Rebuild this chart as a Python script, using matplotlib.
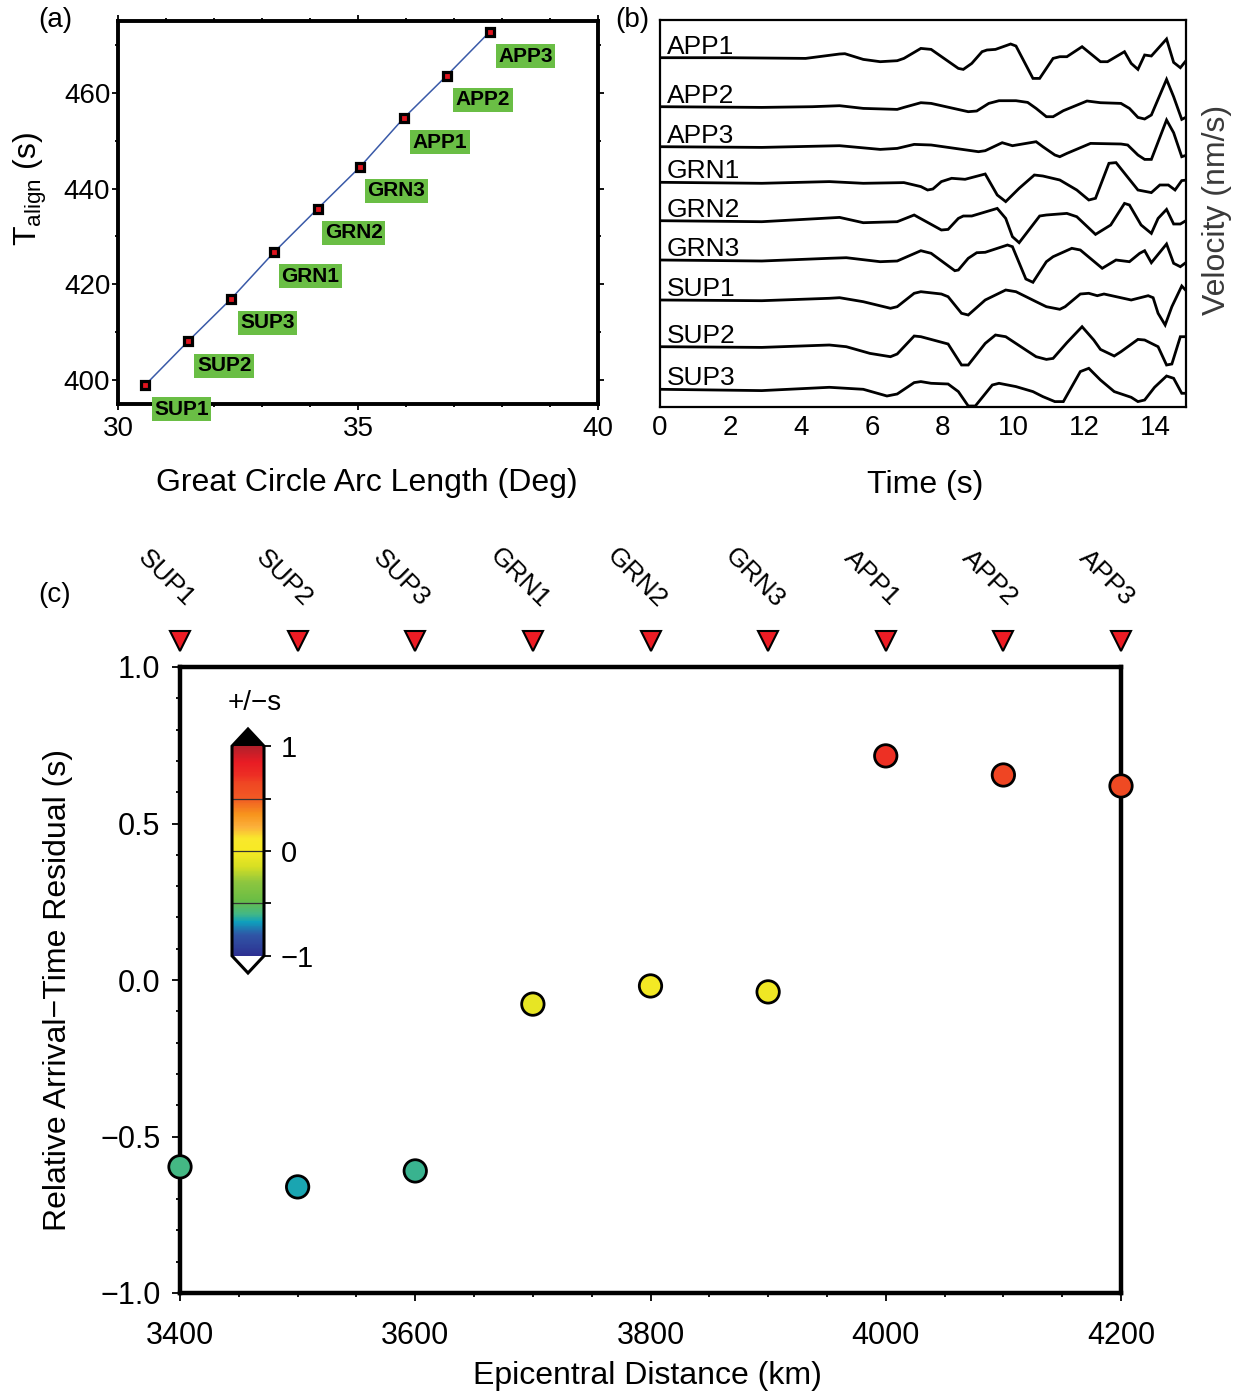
import numpy as np
import matplotlib
matplotlib.use('Agg')
import matplotlib.pyplot as plt
from matplotlib.colors import LinearSegmentedColormap, Normalize
from matplotlib.cm import ScalarMappable
from matplotlib.ticker import MultipleLocator, FixedLocator, FuncFormatter

plt.rcParams['font.family'] = ['Liberation Sans', 'DejaVu Sans']
plt.rcParams['mathtext.default'] = 'regular'

# station names, west to east
stations = ['SUP1', 'SUP2', 'SUP3', 'GRN1', 'GRN2', 'GRN3', 'APP1', 'APP2', 'APP3']

# (a) alignment time vs arc length
arc_deg = [30.57, 31.46, 32.36, 33.26, 34.16, 35.05, 35.95, 36.85, 37.74]
t_align = [399.0, 408.1, 417.0, 426.8, 435.8, 444.6, 454.7, 463.6, 472.7]

# (c) residuals vs epicentral distance
epi_km = [3400, 3500, 3600, 3700, 3800, 3900, 4000, 4100, 4200]
resid = [-0.597, -0.661, -0.610, -0.077, -0.019, -0.038, 0.716, 0.655, 0.620]

# (b) waveforms (time in s, amplitude in plot units), top to bottom
trace_names = ['APP1', 'APP2', 'APP3', 'GRN1', 'GRN2', 'GRN3', 'SUP1', 'SUP2', 'SUP3']
trace_base = [349.3, 300.3, 260.3, 224.7, 186.3, 147.0, 107.0, 60.3, 17.7]

t_app1 = [0, 1.92, 4.12, 5.08, 5.23, 5.75, 6.23, 6.71, 6.90, 7.38, 7.67, 8.44, 8.58, 8.82, 9.11, 9.25,
          9.49, 9.92, 10.07, 10.55, 10.74, 11.12, 11.31, 11.51, 11.94, 12.46, 12.66, 13.14, 13.33,
          13.52, 13.71, 13.90, 14.33, 14.53, 14.72, 14.91]
v_app1 = [0, 0, -0.7, 3.7, 4, -1.7, -4, -3, -0.7, 9.3, 8.3, -10.7, -11.7, -5.7, 6, 7.7,
          8.3, 13.7, 11.7, -20.7, -20.7, -0.7, 1, 1, 11, -4, -4, 6, -5.7,
          -11.7, 2.7, 1.7, 18.7, -4.7, -10, -1.7]

t_app2 = [0, 2.88, 4.31, 5.08, 5.75, 6.71, 6.90, 7.38, 7.67, 8.72, 8.96, 9.30, 9.59, 10.07, 10.40,
          10.64, 10.93, 11.12, 11.41, 12.08, 12.46, 13.04, 13.28, 13.52, 13.71, 13.90, 14.33, 14.53,
          14.76, 14.91]
v_app2 = [0, -0.7, 0, 1, -1.7, -2.7, -0.7, 4, 3.3, -5, -4.3, 3.3, 6, 6, 4.3,
          -1.7, -10, -10, -4, 5.7, 4, 3.3, -1.7, -10.7, -12.3, -8.3, 27.3, 10,
          -12.7, -10]

t_app3 = [0, 2.88, 5.08, 6.23, 6.71, 7.19, 7.67, 9.01, 9.20, 9.68, 9.97, 10.64, 10.83, 11.17, 11.31,
          11.51, 12.18, 13.04, 13.23, 13.52, 13.71, 13.90, 14.33, 14.53, 14.76, 14.91]
v_app3 = [0, -0.7, 1, -2.7, -1.7, 2.3, 1.7, -5, -4, 4, 1, 5, 0, -8.3, -10,
          -6.7, 3.3, 2.7, 1.7, -8.3, -12.7, -12.7, 26.7, 14, -10, -8.3]

t_grn1 = [0, 2.88, 4.79, 5.75, 6.90, 7.38, 7.57, 7.72, 7.96, 8.25, 8.63, 9.20, 9.54, 9.78, 10.16,
          10.59, 10.83, 11.31, 11.79, 12.13, 12.32, 12.70, 12.90, 13.52, 13.90, 14.14, 14.38, 14.57,
          14.76, 14.91]
v_grn1 = [0, -1, 0.7, -1, -0.3, -4.3, -7.7, -6.7, 0.7, 4, 3, 8.3, -12.7, -19.3, -6,
          7.3, 6.3, 2.3, -7.7, -17.7, -16, 19, 19.7, -7.7, -10.3, -2.7, -2.7, -7.7,
          1.7, 2.3]

t_grn2 = [0, 2.88, 5.08, 5.75, 6.71, 7.19, 7.96, 8.15, 8.44, 8.58, 8.82, 9.54, 9.78, 9.97, 10.16,
          10.74, 10.93, 11.51, 11.79, 12.32, 12.75, 13.14, 13.28, 13.61, 13.90, 14.09, 14.33, 14.53,
          14.72, 14.91]
v_grn2 = [0, -1, 3.3, -2, -1, 5.7, -9.3, -8.7, 2.3, 4.7, 4.7, 12.3, 2.3, -16, -22,
          4.7, 5.7, 7.3, 4, -13.7, -4.3, 17.3, 15.7, -4.3, -12.7, 2.3, 11.3, -3.3,
          -3.3, 0.7]

t_grn3 = [0, 2.88, 4.79, 5.27, 6.23, 6.71, 7.38, 7.67, 8.34, 8.44, 8.72, 8.96, 9.20, 9.83, 9.97,
          10.35, 10.55, 10.93, 11.12, 11.65, 11.89, 12.51, 12.90, 13.28, 13.57, 13.71, 13.90, 14.33,
          14.53, 14.72, 14.91]
v_grn3 = [0, -1, 1.7, 2.3, -1.7, -1, 9.3, 6.7, -10.7, -10, 1.7, 7.3, 7.7, 15, 13.3,
          -19, -22.3, -1.7, 3.3, 11.7, 10, -8.3, 0, -1.7, 6.7, 9.3, -2.7, 16,
          -3.3, -6.7, -1.7]

t_sup1 = [0, 2.88, 4.79, 5.08, 5.75, 6.52, 6.71, 7.19, 7.38, 7.96, 8.15, 8.53, 8.72, 9.20, 9.78,
          10.07, 10.64, 10.93, 11.31, 11.46, 11.89, 12.13, 12.37, 12.56, 13.33, 13.81, 13.95, 14.09,
          14.29, 14.48, 14.76, 14.91]
v_sup1 = [0, -0.7, 1.7, 2.3, -1.7, -8.3, -6.7, 6.7, 8.3, 6, 3.3, -13.3, -15, 0, 10,
          8.3, -1.7, -6.7, -9.3, -6.7, 6, 6.7, 4.3, 6, 0, 4.3, 2.3, -13.3,
          -25, -6.7, 14, 8.3]

t_sup2 = [0, 2.88, 4.79, 5.27, 5.94, 6.52, 6.71, 7.19, 7.38, 8.15, 8.53, 8.72, 9.20, 9.49, 9.78,
          10.35, 10.64, 10.93, 11.12, 11.51, 11.94, 12.27, 12.46, 12.85, 13.04, 13.52, 13.71, 14.09,
          14.33, 14.48, 14.72, 14.91]
v_sup2 = [0, -0.7, 1.7, 0, -6.7, -10, -7.3, 10.7, 10, 2.7, -18.3, -18.3, 3.3, 11.7, 10,
          -3.3, -10, -12.7, -11.7, 4, 20, 6.7, -2.7, -9.3, -5, 7.3, 6.7, 0,
          -18.3, -17.3, 10, 10]

t_sup3 = [0, 2.88, 4.79, 5.75, 6.42, 6.71, 7.19, 7.38, 7.67, 8.15, 8.44, 8.72, 8.92, 9.40, 9.59,
          10.07, 10.55, 10.83, 11.17, 11.41, 11.89, 12.13, 12.46, 12.85, 13.33, 13.52, 13.71, 13.99,
          14.33, 14.53, 14.76, 14.91]
v_sup3 = [0, -1.3, 2, 0, -6.7, -4.7, 6.7, 7.7, 6, 5.3, -2.3, -16.7, -16.7, 4.3, 6,
          2.7, -2.3, -7.3, -12.3, -12.3, 17.7, 21, 9.3, -2.3, -8, -12.3, -10.7, 2,
          13.3, 11, -4, -4]

trace_t = [t_app1, t_app2, t_app3, t_grn1, t_grn2, t_grn3, t_sup1, t_sup2, t_sup3]
trace_v = [v_app1, v_app2, v_app3, v_grn1, v_grn2, v_grn3, v_sup1, v_sup2, v_sup3]

# colour scale for residuals
cpt = [(-1.0, '#2e3192'), (-0.8, '#2f56a6'), (-0.68, '#0ea0bd'), (-0.6, '#44b884'),
       (-0.47, '#6abd45'), (-0.3, '#8dc63f'), (-0.15, '#d7df23'), (0.0, '#f7ea24'),
       (0.12, '#f9e82c'), (0.23, '#fbb03b'), (0.35, '#f7941d'), (0.5, '#f15a24'),
       (0.65, '#ef4723'), (0.72, '#ed2f24'), (0.85, '#e81c24'), (1.0, '#b2202b')]
cmap = LinearSegmentedColormap.from_list('resid', [((v + 1) / 2, c) for v, c in cpt])
cmap.set_over('black')
cmap.set_under('white')
norm = Normalize(-1, 1)

W, H = 1243, 1393
fig = plt.figure(figsize=(W / 100, H / 100), dpi=100)


def px_axes(l, t, r, b):
    return fig.add_axes([l / W, 1 - b / H, (r - l) / W, (b - t) / H])


def minus_fmt(v, pos):
    return ('%.1f' % v).replace('-', '\u2212')


# ---- (a)
ax1 = px_axes(118, 21, 598, 404)
ax1.plot(arc_deg, t_align, color='#3a5aa8', lw=1.1, zorder=2)
ax1.plot(arc_deg, t_align, ls='none', marker='s', ms=6, mfc='#e0141e', mec='black', mew=2.3, zorder=3)
for name, x, y in zip(stations, arc_deg, t_align):
    ax1.annotate(name, (x, y), xytext=(26, -17.5), textcoords='offset points',
                 ha='center', va='center', fontsize=15, fontweight='bold', zorder=6,
                 bbox=dict(boxstyle='square,pad=0.12', fc='#6abe45', ec='none'),
                 annotation_clip=False)
ax1.set_xlim(30, 40)
ax1.set_ylim(395, 475)
ax1.set_xticks([30, 35, 40])
ax1.xaxis.set_minor_locator(MultipleLocator(1))
ax1.set_yticks([400, 420, 440, 460])
ax1.yaxis.set_minor_locator(MultipleLocator(10))
ax1.tick_params(which='both', direction='out', top=True, right=True, width=1.3, labelsize=20)
ax1.tick_params(axis='y', pad=1)
ax1.tick_params(axis='x', pad=4)
ax1.tick_params(which='major', length=4.5)
ax1.tick_params(which='minor', length=2.5)
for s in ax1.spines.values():
    s.set_linewidth(2.8)
ax1.set_xlabel('Great Circle Arc Length (Deg)', fontsize=23)
ax1.xaxis.set_label_coords(0.519, -0.206)
ax1.xaxis.label.set_va('center')
ax1.set_ylabel('T$_{align}$ (s)', fontsize=23)
ax1.yaxis.set_label_coords(-0.183, 0.561)
ax1.yaxis.label.set_va('center')

# ---- (b)
ax2 = px_axes(660, 20, 1186, 407)
for name, base, t, v in zip(trace_names, trace_base, trace_t, trace_v):
    ax2.plot(t, base + np.array(v), color='black', lw=2.0, solid_joinstyle='miter')
    ax2.text(0.2, base + 4, name, fontsize=19, va='baseline', ha='left')
ax2.set_xlim(0, 14.88)
ax2.set_ylim(0, 387)
ax2.set_xticks(np.arange(0, 15, 2))
ax2.set_yticks([])
ax2.tick_params(axis='x', length=0, labelsize=20, pad=6)
for s in ax2.spines.values():
    s.set_linewidth(1.6)
ax2.set_xlabel('Time (s)', fontsize=23)
ax2.xaxis.set_label_coords(0.504, -0.2016)
ax2.xaxis.label.set_va('center')
ax2.yaxis.set_label_position('right')
ax2.set_ylabel('Velocity (nm/s)', fontsize=23, color='#3a3a3a')
ax2.yaxis.set_label_coords(1.058, 0.509)
ax2.yaxis.label.set_va('center')

# ---- (c)
ax3 = px_axes(180, 667, 1121, 1293)
ax3.scatter(epi_km, resid, c=resid, cmap=cmap, norm=norm, s=260, edgecolors='black',
            linewidths=2, zorder=5, clip_on=False)
top = ax3.get_xaxis_transform()
ax3.plot(epi_km, np.full(len(epi_km), 1.0415), transform=top, ls='none', marker='v', ms=14,
         mfc='#ed1c24', mec='black', mew=1.5, clip_on=False)
for name, x in zip(stations, epi_km):
    ax3.annotate(name, (x, 1.142), xycoords=top, xytext=(-10, 0), textcoords='offset points',
                 rotation=-45, ha='center', va='center', fontsize=19, annotation_clip=False)
ax3.set_xlim(3400, 4200)
ax3.set_ylim(-1, 1)
ax3.xaxis.set_major_locator(MultipleLocator(200))
ax3.xaxis.set_minor_locator(MultipleLocator(50))
ax3.yaxis.set_major_locator(MultipleLocator(0.5))
ax3.yaxis.set_minor_locator(MultipleLocator(0.1))
ax3.yaxis.set_major_formatter(FuncFormatter(minus_fmt))
ax3.tick_params(which='both', direction='out', width=1.3, labelsize=22)
ax3.tick_params(axis='x', pad=14)
ax3.tick_params(axis='y', pad=8)
ax3.tick_params(which='major', length=6)
ax3.tick_params(which='minor', length=3.2)
for s in ax3.spines.values():
    s.set_linewidth(3.2)
ax3.set_xlabel('Epicentral Distance (km)', fontsize=23)
ax3.xaxis.set_label_coords(0.497, -0.1326)
ax3.xaxis.label.set_va('center')
ax3.set_ylabel('Relative Arrival\u2212Time Residual (s)', fontsize=23)
ax3.yaxis.set_label_coords(-0.1296, 0.484)
ax3.yaxis.label.set_va('center')

# colour bar inside (c)
cax = px_axes(232, 729, 264, 973)
cb = fig.colorbar(ScalarMappable(norm=norm, cmap=cmap), cax=cax, extend='both', extendfrac=17 / 208)
cb.outline.set_linewidth(2.2)
cb.set_ticks([-1, 0, 1])
cb.ax.yaxis.set_minor_locator(FixedLocator([-0.5, 0.5]))
cb.ax.tick_params(which='both', length=5, width=1.3, labelsize=21, pad=7)
for v in (-0.5, 0, 0.5):
    cb.ax.axhline(v, color='#333333', lw=0.9)
fig.text(255 / W, 1 - 703 / H, '+/\u2212s', ha='center', va='center', fontsize=20)

# panel letters
fig.text(55 / W, 1 - 20 / H, '(a)', ha='center', va='center', fontsize=20)
fig.text(632 / W, 1 - 20 / H, '(b)', ha='center', va='center', fontsize=20)
fig.text(55 / W, 1 - 595 / H, '(c)', ha='center', va='center', fontsize=20)

fig.savefig('out.png', dpi=100)
